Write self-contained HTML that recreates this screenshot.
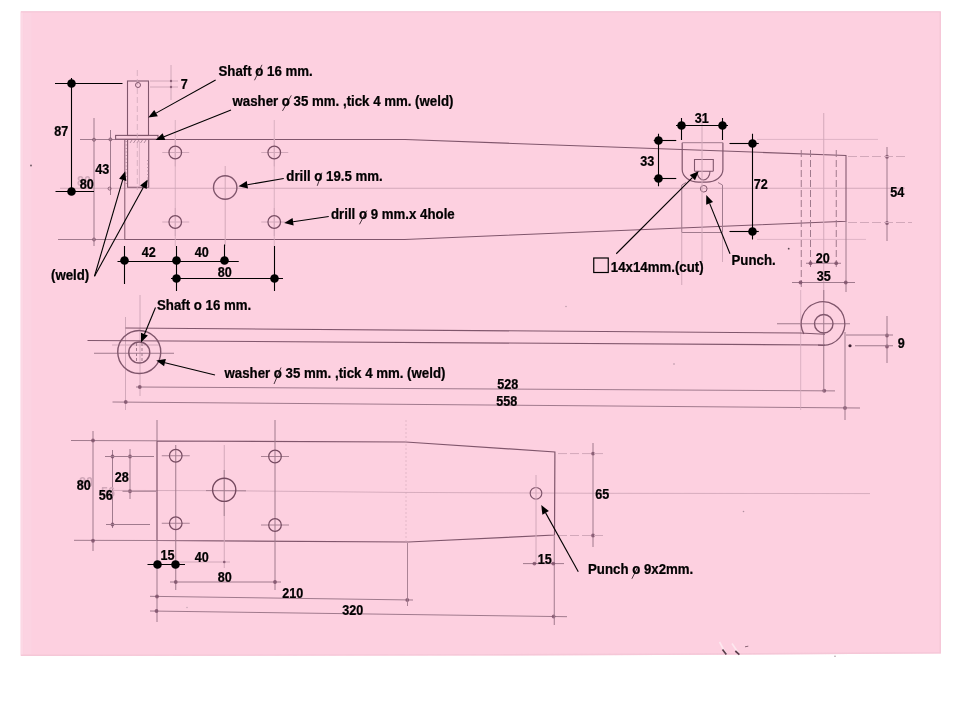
<!DOCTYPE html>
<html><head><meta charset="utf-8"><title>drawing</title>
<style>
html,body{margin:0;padding:0;background:#fff;}
body{width:960px;height:720px;overflow:hidden;}
svg{display:block}
</style></head><body>
<svg width="960" height="720" viewBox="0 0 960 720">
<polygon points="20.6,11.3 941,11.3 941,653.4 660,655 480,655.6 20.6,656" fill="#fdd0e0"/>
<line x1="22" y1="12.5" x2="22" y2="655" stroke="#fbdae6" stroke-width="2.6" stroke-opacity="0.8"/>
<line x1="27.5" y1="13" x2="27.5" y2="654" stroke="#fcd6e3" stroke-width="8" stroke-opacity="0.5"/>
<line x1="21" y1="11.9" x2="940.5" y2="11.9" stroke="#f3c6d6" stroke-width="1.2" stroke-opacity="0.8"/>
<polyline points="940.2,12 940.2,652.7 660,654.3 480,654.9 21,655.3" fill="none" stroke="#f2c4d4" stroke-width="1.4" stroke-opacity="0.8"/>
<defs><filter id="soft" x="-2%" y="-2%" width="104%" height="104%"><feGaussianBlur stdDeviation="0.35"/></filter></defs>
<g filter="url(#soft)">
<line x1="60" y1="188.25" x2="905" y2="188.25" stroke="#d2a8ba" stroke-width="1" />
<line x1="80" y1="139.5" x2="125" y2="139.5" stroke="#a07a8d" stroke-width="1" />
<line x1="58" y1="239.5" x2="125" y2="239.5" stroke="#a07a8d" stroke-width="1" />
<line x1="757" y1="139.4" x2="878" y2="139.4" stroke="#d2a8ba" stroke-width="0.7" />
<line x1="757" y1="239.4" x2="866" y2="239.4" stroke="#d2a8ba" stroke-width="0.7" />
<polyline points="124.8,139.5 405,139.5 846,155.5 846,221.3 404.5,239.5 124.8,239.5" fill="none" stroke="#80566c" stroke-width="1.05"/>
<line x1="94" y1="118" x2="94" y2="246" stroke="#a07a8d" stroke-width="1" />
<circle cx="94" cy="139.7" r="1.5" fill="none" stroke="#80566c" stroke-width="0.9"/>
<circle cx="94" cy="239.5" r="1.5" fill="none" stroke="#80566c" stroke-width="0.9"/>
<line x1="110.5" y1="130" x2="110.5" y2="195" stroke="#a07a8d" stroke-width="1" />
<circle cx="110.4" cy="139.4" r="1.5" fill="none" stroke="#80566c" stroke-width="0.9"/>
<circle cx="109.6" cy="188.6" r="1.5" fill="none" stroke="#80566c" stroke-width="0.9"/>
<line x1="175.25" y1="120" x2="175.25" y2="246" stroke="#d2a8ba" stroke-width="0.8" />
<line x1="274.25" y1="120" x2="274.25" y2="246" stroke="#d2a8ba" stroke-width="0.8" />
<line x1="162.25" y1="152.5" x2="189.25" y2="152.5" stroke="#d2a8ba" stroke-width="1" />
<line x1="175.25" y1="138.5" x2="175.25" y2="166.5" stroke="#d2a8ba" stroke-width="1" />
<circle cx="175.25" cy="152.5" r="6.3" fill="none" stroke="#784d63" stroke-width="1.25"/>
<line x1="261.25" y1="152.5" x2="288.25" y2="152.5" stroke="#d2a8ba" stroke-width="1" />
<line x1="274.25" y1="138.5" x2="274.25" y2="166.5" stroke="#d2a8ba" stroke-width="1" />
<circle cx="274.25" cy="152.5" r="6.3" fill="none" stroke="#784d63" stroke-width="1.25"/>
<line x1="162.25" y1="222" x2="189.25" y2="222" stroke="#d2a8ba" stroke-width="1" />
<line x1="175.25" y1="208" x2="175.25" y2="236" stroke="#d2a8ba" stroke-width="1" />
<circle cx="175.25" cy="222" r="6.3" fill="none" stroke="#784d63" stroke-width="1.25"/>
<line x1="261.25" y1="222" x2="288.25" y2="222" stroke="#d2a8ba" stroke-width="1" />
<line x1="274.25" y1="208" x2="274.25" y2="236" stroke="#d2a8ba" stroke-width="1" />
<circle cx="274.25" cy="222" r="6.3" fill="none" stroke="#784d63" stroke-width="1.25"/>
<line x1="225.2" y1="166" x2="225.2" y2="246" stroke="#d2a8ba" stroke-width="1" />
<circle cx="225.2" cy="187.5" r="11.7" fill="none" stroke="#80566c" stroke-width="1.4"/>
<rect x="127.5" y="81" width="21" height="54.5" fill="none" stroke="#80566c" stroke-width="1.1"/>
<rect x="115.6" y="135.4" width="42.4" height="3.8" fill="none" stroke="#80566c" stroke-width="1.1"/>
<path d="M127.6,139.2 V187.3 H148.7 V139.2" fill="none" stroke="#80566c" stroke-width="1.1"/>
<line x1="124.8" y1="139.5" x2="124.8" y2="239.5" stroke="#80566c" stroke-width="1" />
<line x1="126.2" y1="141" x2="126.2" y2="186" stroke="#a07a8d" stroke-width="1.2" stroke-dasharray="1 2.5" stroke-opacity="0.7"/>
<line x1="148" y1="160" x2="148" y2="186" stroke="#a07a8d" stroke-width="1.2" stroke-dasharray="1 2.5"/>
<path d="M130,143 l2,-3 M133.5,143 l2,-3 M137,143 l2,-3 M140.5,143 l2,-3 M144,143 l2,-3" stroke="#a07a8d" stroke-width="0.8" fill="none"/>
<line x1="137.3" y1="70" x2="137.3" y2="190" stroke="#d2a8ba" stroke-width="0.8" stroke-dasharray="6 3"/>
<line x1="139.4" y1="141" x2="139.4" y2="187" stroke="#d2a8ba" stroke-width="0.7" />
<circle cx="138" cy="85" r="2.5" fill="none" stroke="#80566c" stroke-width="1"/>
<line x1="150" y1="81" x2="178" y2="81" stroke="#d2a8ba" stroke-width="1" />
<line x1="150" y1="87" x2="178" y2="87" stroke="#d2a8ba" stroke-width="1" />
<line x1="171" y1="65" x2="171" y2="100" stroke="#d2a8ba" stroke-width="1" />
<circle cx="171" cy="81" r="1.2" fill="#7a4e66" fill-opacity="0.8"/>
<circle cx="171" cy="87" r="1.2" fill="#7a4e66" fill-opacity="0.8"/>
<path d="M682.2,142.7 V169.5 A16.5,12.6 0 0 0 698.7,182.1 H706.4 A16.5,12.6 0 0 0 722.9,169.5 V142.7" fill="none" stroke="#80566c" stroke-width="1.2"/>
<line x1="682.2" y1="142.7" x2="722.9" y2="142.7" stroke="#a07a8d" stroke-width="1" />
<path d="M681.75,232.5 V185 L686,182.5 M722.5,232.5 V185 L718,182.5 M681.75,232.5 H722.5" fill="none" stroke="#a07a8d" stroke-width="1"/>
<path d="M694.5,171.3 V159.5 H713.3 V171.3 M697,171.3 A6,8 0 0 0 710,171.3 M694.5,171.3 H713.3" fill="none" stroke="#80566c" stroke-width="1.1"/>
<circle cx="703.75" cy="188.75" r="3.3" fill="none" stroke="#80566c" stroke-width="1"/>
<line x1="702" y1="118" x2="702" y2="262" stroke="#d2a8ba" stroke-width="1" />
<line x1="681.75" y1="232.5" x2="681.75" y2="285" stroke="#d2a8ba" stroke-width="1" />
<line x1="722.5" y1="232.5" x2="722.5" y2="262" stroke="#d2a8ba" stroke-width="1" />
<line x1="801.25" y1="150" x2="801.25" y2="290" stroke="#a07a8d" stroke-width="1" stroke-dasharray="7 3"/>
<line x1="810.5" y1="150" x2="810.5" y2="268" stroke="#a07a8d" stroke-width="1" stroke-dasharray="7 3"/>
<line x1="836.25" y1="150" x2="836.25" y2="268" stroke="#a07a8d" stroke-width="1" stroke-dasharray="7 3"/>
<line x1="846" y1="221" x2="846" y2="292" stroke="#a07a8d" stroke-width="1" />
<line x1="823.75" y1="113" x2="823.75" y2="300" stroke="#d2a8ba" stroke-width="1" />
<line x1="887" y1="147" x2="887" y2="241" stroke="#a07a8d" stroke-width="1" />
<circle cx="887" cy="156.75" r="1.9" fill="#7a4e66" fill-opacity="0.8"/>
<circle cx="887" cy="223" r="1.9" fill="#7a4e66" fill-opacity="0.8"/>
<line x1="848" y1="156.5" x2="905" y2="156.5" stroke="#d2a8ba" stroke-width="1" stroke-dasharray="9 3"/>
<line x1="848" y1="222.5" x2="912" y2="222.5" stroke="#d2a8ba" stroke-width="1" stroke-dasharray="9 3"/>
<line x1="806" y1="263.25" x2="841" y2="263.25" stroke="#a07a8d" stroke-width="1" />
<circle cx="810.5" cy="263.25" r="1.9" fill="#7a4e66" fill-opacity="0.8"/>
<circle cx="836.25" cy="263.25" r="1.9" fill="#7a4e66" fill-opacity="0.8"/>
<line x1="792" y1="282.5" x2="855" y2="282.5" stroke="#a07a8d" stroke-width="1" />
<circle cx="800.5" cy="282.5" r="1.9" fill="#7a4e66" fill-opacity="0.8"/>
<circle cx="845.75" cy="282.5" r="1.9" fill="#7a4e66" fill-opacity="0.8"/>
<line x1="125.5" y1="317" x2="125.5" y2="410" stroke="#d2a8ba" stroke-width="1" />
<line x1="140" y1="295" x2="140" y2="396" stroke="#d2a8ba" stroke-width="1" />
<line x1="125.5" y1="328.0" x2="800" y2="333.0" stroke="#80566c" stroke-width="1.1" />
<line x1="87.5" y1="340.5" x2="825" y2="345" stroke="#80566c" stroke-width="1.1" />
<line x1="94" y1="353.25" x2="174" y2="353.25" stroke="#a07a8d" stroke-width="1" />
<line x1="112" y1="345" x2="160" y2="345" stroke="#d2a8ba" stroke-width="1" />
<circle cx="139.25" cy="352" r="21.5" fill="none" stroke="#80566c" stroke-width="1.4"/>
<circle cx="139.25" cy="352.5" r="10.5" fill="none" stroke="#80566c" stroke-width="1.4"/>
<line x1="136.5" y1="343" x2="136.5" y2="362" stroke="#a07a8d" stroke-width="1" stroke-dasharray="3 2"/>
<line x1="142" y1="343" x2="142" y2="362" stroke="#a07a8d" stroke-width="1" stroke-dasharray="3 2"/>
<line x1="136" y1="387" x2="835" y2="390.9" stroke="#a07a8d" stroke-width="1" />
<circle cx="139.75" cy="387" r="1.9" fill="#7a4e66" fill-opacity="0.8"/>
<circle cx="824.25" cy="390.75" r="1.9" fill="#7a4e66" fill-opacity="0.8"/>
<line x1="112.5" y1="402" x2="860" y2="408" stroke="#a07a8d" stroke-width="1" />
<circle cx="125.75" cy="402" r="1.9" fill="#7a4e66" fill-opacity="0.8"/>
<circle cx="845" cy="408" r="1.9" fill="#7a4e66" fill-opacity="0.8"/>
<line x1="777" y1="323.75" x2="850" y2="323.75" stroke="#a07a8d" stroke-width="1" />
<line x1="823.75" y1="290" x2="823.75" y2="392" stroke="#a07a8d" stroke-width="1" />
<line x1="800.7" y1="290" x2="800.7" y2="410" stroke="#d2a8ba" stroke-width="0.8" />
<line x1="845" y1="332" x2="845" y2="420" stroke="#a07a8d" stroke-width="1" />
<circle cx="823.75" cy="323.75" r="9.25" fill="none" stroke="#80566c" stroke-width="1.4"/>
<path d="M818,345.1 L823,345.4 A21.8,21.8 0 1 0 803.86,334.03" fill="none" stroke="#80566c" stroke-width="1.3"/>
<line x1="800" y1="333.0" x2="825" y2="334.2" stroke="#80566c" stroke-width="1.1" />
<line x1="887" y1="316" x2="887" y2="363" stroke="#a07a8d" stroke-width="1" />
<circle cx="887" cy="335.5" r="1.9" fill="#7a4e66" fill-opacity="0.8"/>
<circle cx="887" cy="346.5" r="1.9" fill="#7a4e66" fill-opacity="0.8"/>
<line x1="846" y1="335" x2="893" y2="335" stroke="#a07a8d" stroke-width="1" />
<line x1="855" y1="345.75" x2="893" y2="345.75" stroke="#a07a8d" stroke-width="1" />
<circle cx="850" cy="345.75" r="1.6" fill="#3a2030"/>
<polyline points="105,490.4 224,490.7 400,492.4 600,493.3 870,493.6" fill="none" stroke="#d2a8ba" stroke-width="0.9"/>
<polygon points="157,441 405.75,442 554.9,452 554.5,535 408.25,542 157,540.5" fill="none" stroke="#80566c" stroke-width="1.2"/>
<line x1="157" y1="420" x2="157" y2="441" stroke="#a07a8d" stroke-width="1" />
<line x1="157" y1="540.5" x2="157" y2="622" stroke="#a07a8d" stroke-width="1" />
<line x1="71" y1="440.5" x2="157" y2="440.8" stroke="#a07a8d" stroke-width="1" />
<line x1="74" y1="540.3" x2="157" y2="540.5" stroke="#a07a8d" stroke-width="1" />
<line x1="406" y1="420" x2="406" y2="542" stroke="#d2a8ba" stroke-width="0.6" stroke-dasharray="2 2"/>
<line x1="93" y1="431" x2="93" y2="551" stroke="#a07a8d" stroke-width="1" />
<circle cx="93" cy="440.5" r="1.9" fill="#7a4e66" fill-opacity="0.8"/>
<circle cx="93" cy="540.75" r="1.9" fill="#7a4e66" fill-opacity="0.8"/>
<line x1="112.5" y1="450" x2="112.5" y2="528" stroke="#a07a8d" stroke-width="1" />
<circle cx="112.5" cy="456.5" r="1.9" fill="#7a4e66" fill-opacity="0.8"/>
<circle cx="112.5" cy="524.5" r="1.9" fill="#7a4e66" fill-opacity="0.8"/>
<line x1="130" y1="449" x2="130" y2="499" stroke="#a07a8d" stroke-width="1" />
<circle cx="130" cy="456.5" r="1.9" fill="#7a4e66" fill-opacity="0.8"/>
<circle cx="130" cy="491.25" r="1.9" fill="#7a4e66" fill-opacity="0.8"/>
<line x1="105" y1="456.5" x2="154" y2="456.5" stroke="#a07a8d" stroke-width="1" />
<line x1="122.5" y1="491.25" x2="156" y2="491.25" stroke="#a07a8d" stroke-width="1" />
<line x1="106" y1="524.5" x2="150" y2="524.5" stroke="#a07a8d" stroke-width="1" />
<line x1="175.75" y1="445" x2="175.75" y2="590" stroke="#a07a8d" stroke-width="1" />
<line x1="224.25" y1="445" x2="224.25" y2="568" stroke="#d2a8ba" stroke-width="1" />
<line x1="275" y1="420" x2="275" y2="590" stroke="#a07a8d" stroke-width="1" />
<line x1="161.75" y1="455.75" x2="189.75" y2="455.75" stroke="#a07a8d" stroke-width="0.9" />
<circle cx="175.75" cy="455.75" r="6.3" fill="none" stroke="#784d63" stroke-width="1.25"/>
<line x1="261" y1="456.5" x2="289" y2="456.5" stroke="#a07a8d" stroke-width="0.9" />
<circle cx="275" cy="456.5" r="6.3" fill="none" stroke="#784d63" stroke-width="1.25"/>
<line x1="161.75" y1="523.25" x2="189.75" y2="523.25" stroke="#a07a8d" stroke-width="0.9" />
<circle cx="175.75" cy="523.25" r="6.3" fill="none" stroke="#784d63" stroke-width="1.25"/>
<line x1="261" y1="525" x2="289" y2="525" stroke="#a07a8d" stroke-width="0.9" />
<circle cx="275" cy="525" r="6.3" fill="none" stroke="#784d63" stroke-width="1.25"/>
<line x1="206" y1="490.6" x2="246" y2="490.8" stroke="#a07a8d" stroke-width="0.9" />
<line x1="224.2" y1="470" x2="224.2" y2="516" stroke="#a07a8d" stroke-width="0.9" />
<circle cx="224.2" cy="489.8" r="11.6" fill="none" stroke="#74495f" stroke-width="1.4"/>
<line x1="175.75" y1="562" x2="230" y2="562" stroke="#d2a8ba" stroke-width="1" />
<circle cx="224.25" cy="562" r="1.3" fill="#7a4e66" fill-opacity="0.8"/>
<line x1="170" y1="582" x2="281" y2="582" stroke="#a07a8d" stroke-width="1" />
<circle cx="175.75" cy="582" r="1.9" fill="#7a4e66" fill-opacity="0.8"/>
<circle cx="275" cy="582" r="1.9" fill="#7a4e66" fill-opacity="0.8"/>
<line x1="150" y1="596.3" x2="413" y2="600" stroke="#a07a8d" stroke-width="1" />
<circle cx="157" cy="596.5" r="1.9" fill="#7a4e66" fill-opacity="0.8"/>
<circle cx="407.3" cy="600" r="1.9" fill="#7a4e66" fill-opacity="0.8"/>
<line x1="150" y1="611" x2="567" y2="616.7" stroke="#a07a8d" stroke-width="1" />
<circle cx="156.5" cy="611" r="1.9" fill="#7a4e66" fill-opacity="0.8"/>
<circle cx="553.6" cy="616.5" r="1.9" fill="#7a4e66" fill-opacity="0.8"/>
<line x1="407.5" y1="543" x2="407.5" y2="606" stroke="#a07a8d" stroke-width="0.9" />
<circle cx="536" cy="493.3" r="5.8" fill="none" stroke="#80566c" stroke-width="1.2"/>
<line x1="536" y1="475" x2="536" y2="564" stroke="#d2a8ba" stroke-width="1" />
<line x1="554.25" y1="536" x2="554.25" y2="625" stroke="#a07a8d" stroke-width="1" />
<line x1="593" y1="443" x2="593" y2="547" stroke="#a07a8d" stroke-width="1" />
<circle cx="593" cy="453.6" r="1.9" fill="#7a4e66" fill-opacity="0.8"/>
<circle cx="593" cy="535.5" r="1.9" fill="#7a4e66" fill-opacity="0.8"/>
<line x1="558" y1="453.6" x2="606" y2="453.6" stroke="#d2a8ba" stroke-width="1" stroke-dasharray="9 3"/>
<line x1="558" y1="535.5" x2="603" y2="535.5" stroke="#d2a8ba" stroke-width="1" stroke-dasharray="9 3"/>
<line x1="523" y1="563.6" x2="564" y2="563.6" stroke="#a07a8d" stroke-width="1" />
<circle cx="534.4" cy="563.6" r="1.9" fill="#7a4e66" fill-opacity="0.8"/>
<circle cx="553.3" cy="563.6" r="1.9" fill="#7a4e66" fill-opacity="0.8"/>
<path d="M719.5,642 L726,654 M732,643.5 L739,654" stroke="#fde8ef" stroke-width="1.6" fill="none"/>
<path d="M722.5,649.5 L726.3,654.6 M735.3,651 L739.4,654.6" stroke="#5c3f4e" stroke-width="1.7" fill="none"/>
<path d="M745,646.8 L748.3,646.2" stroke="#8a6676" stroke-width="1" fill="none"/>
<circle cx="835" cy="656.3" r="0.7" fill="#9a8890"/>
<circle cx="31" cy="165.5" r="0.9" fill="#6a5560"/>
<circle cx="788.7" cy="248.7" r="0.9" fill="#5a4550"/>
<circle cx="674" cy="364" r="0.8" fill="#b090a0"/>
<circle cx="743.5" cy="511.5" r="0.8" fill="#b090a0"/>
<circle cx="566" cy="306.5" r="0.7" fill="#b090a0"/>
<circle cx="187" cy="607.5" r="0.7" fill="#c0a0b0"/>
</g>
<line x1="55" y1="83.5" x2="122.5" y2="83.5" stroke="#000" stroke-width="1.1"/>
<line x1="55.5" y1="191.5" x2="94" y2="191.5" stroke="#000" stroke-width="1.1"/>
<line x1="71.5" y1="78" x2="71.5" y2="191" stroke="#000" stroke-width="1.1"/>
<circle cx="71.5" cy="83.5" r="4.3" fill="#000"/>
<circle cx="71.5" cy="191.5" r="4.3" fill="#000"/>
<line x1="117.5" y1="261.5" x2="238.75" y2="261.5" stroke="#000" stroke-width="1.1"/>
<line x1="124.5" y1="246" x2="124.5" y2="284" stroke="#000" stroke-width="1.1"/>
<line x1="176.5" y1="246" x2="176.5" y2="291" stroke="#000" stroke-width="1.1"/>
<line x1="224.5" y1="244.5" x2="224.5" y2="262.5" stroke="#000" stroke-width="1.1"/>
<line x1="274.5" y1="246" x2="274.5" y2="291" stroke="#000" stroke-width="1.1"/>
<line x1="171" y1="278.5" x2="283" y2="278.5" stroke="#000" stroke-width="1.1"/>
<circle cx="124.5" cy="260.5" r="4.3" fill="#000"/>
<circle cx="176.5" cy="260.5" r="4.3" fill="#000"/>
<circle cx="224.5" cy="260.5" r="4.3" fill="#000"/>
<circle cx="176.5" cy="278.5" r="4.3" fill="#000"/>
<circle cx="274.5" cy="278.5" r="4.3" fill="#000"/>
<line x1="681.5" y1="118" x2="681.5" y2="140" stroke="#000" stroke-width="1.1"/>
<line x1="722.5" y1="118" x2="722.5" y2="140" stroke="#000" stroke-width="1.1"/>
<line x1="676" y1="125.5" x2="728" y2="125.5" stroke="#000" stroke-width="1.1"/>
<circle cx="681.5" cy="125.5" r="4.3" fill="#000"/>
<circle cx="722.5" cy="125.5" r="4.3" fill="#000"/>
<line x1="658.5" y1="133.75" x2="658.5" y2="186.25" stroke="#000" stroke-width="1.1"/>
<line x1="653.75" y1="140.5" x2="676.25" y2="140.5" stroke="#000" stroke-width="1.1"/>
<line x1="653.75" y1="178.5" x2="676.25" y2="178.5" stroke="#000" stroke-width="1.1"/>
<circle cx="658.5" cy="140.5" r="4.3" fill="#000"/>
<circle cx="658.5" cy="178.5" r="4.3" fill="#000"/>
<line x1="752.5" y1="133.75" x2="752.5" y2="239.5" stroke="#000" stroke-width="1.1"/>
<line x1="729.5" y1="143.5" x2="758.75" y2="143.5" stroke="#000" stroke-width="1.1"/>
<line x1="729.5" y1="231.5" x2="758.75" y2="231.5" stroke="#000" stroke-width="1.1"/>
<circle cx="752.5" cy="143.5" r="4.3" fill="#000"/>
<circle cx="752.5" cy="231.5" r="4.3" fill="#000"/>
<line x1="147.5" y1="564.5" x2="185" y2="564.5" stroke="#000" stroke-width="1.1"/>
<circle cx="157.5" cy="564.5" r="4.3" fill="#000"/>
<circle cx="175.5" cy="564.5" r="4.3" fill="#000"/>
<line x1="215.60" y1="80.00" x2="156.06" y2="113.12" stroke="#000" stroke-width="1.1"/>
<polygon points="148.20,117.50 154.27,109.89 157.86,116.36" fill="#000"/>
<line x1="231.00" y1="110.00" x2="163.96" y2="136.67" stroke="#000" stroke-width="1.1"/>
<polygon points="155.60,140.00 162.59,133.23 165.33,140.11" fill="#000"/>
<line x1="283.75" y1="178.50" x2="247.37" y2="184.73" stroke="#000" stroke-width="1.1"/>
<polygon points="238.50,186.25 246.75,181.08 248.00,188.38" fill="#000"/>
<line x1="328.75" y1="216.50" x2="293.10" y2="221.78" stroke="#000" stroke-width="1.1"/>
<polygon points="284.20,223.10 292.56,218.12 293.65,225.44" fill="#000"/>
<line x1="94.50" y1="276.25" x2="122.67" y2="179.89" stroke="#000" stroke-width="1.1"/>
<polygon points="125.20,171.25 126.23,180.93 119.12,178.85" fill="#000"/>
<line x1="94.50" y1="276.25" x2="143.37" y2="187.29" stroke="#000" stroke-width="1.1"/>
<polygon points="147.70,179.40 146.61,189.07 140.12,185.51" fill="#000"/>
<line x1="616.25" y1="253.75" x2="692.39" y2="177.61" stroke="#000" stroke-width="1.1"/>
<polygon points="698.75,171.25 695.00,180.23 689.77,175.00" fill="#000"/>
<line x1="730.00" y1="253.75" x2="709.62" y2="203.34" stroke="#000" stroke-width="1.1"/>
<polygon points="706.25,195.00 713.05,201.96 706.19,204.73" fill="#000"/>
<line x1="155.50" y1="307.50" x2="144.44" y2="334.19" stroke="#000" stroke-width="1.1"/>
<polygon points="141.00,342.50 141.03,332.77 147.86,335.60" fill="#000"/>
<line x1="215.00" y1="375.00" x2="164.99" y2="362.66" stroke="#000" stroke-width="1.1"/>
<polygon points="156.25,360.50 165.87,359.06 164.10,366.25" fill="#000"/>
<line x1="578.30" y1="571.70" x2="545.62" y2="512.87" stroke="#000" stroke-width="1.1"/>
<polygon points="541.25,505.00 548.85,511.07 542.39,514.66" fill="#000"/>
<rect x="593.75" y="258" width="14.5" height="14.5" fill="none" stroke="#000" stroke-width="1.2"/>
<line x1="254.5" y1="80.25" x2="262" y2="64.8" stroke="#33222b" stroke-width="0.9"/>
<line x1="282.5" y1="110.9" x2="291.3" y2="95.4" stroke="#33222b" stroke-width="0.9"/>
<line x1="317.25" y1="185.8" x2="321.9" y2="172.7" stroke="#33222b" stroke-width="0.9"/>
<line x1="359.5" y1="224.3" x2="366.8" y2="210.6" stroke="#33222b" stroke-width="0.9"/>
<line x1="274" y1="384" x2="281" y2="367.5" stroke="#33222b" stroke-width="0.9"/>
<line x1="631.9" y1="578.75" x2="637.5" y2="567.5" stroke="#33222b" stroke-width="0.9"/>
<g opacity="0.999" stroke="#000" stroke-width="0.25" font-family="'Liberation Sans', Arial, sans-serif" font-weight="bold" font-size="14px">
<text transform="translate(77,185.5) scale(0.9,1)" fill="#d2a8ba" stroke="none">80</text>
<text transform="translate(79,486.5) scale(0.9,1)" fill="#d2a8ba" stroke="none">80</text>
<text transform="translate(101,497) scale(0.9,1)" fill="#d2a8ba" stroke="none">56</text>
<text transform="translate(218.5,75.75) scale(0.947,1)" fill="#000" >Shaft o 16 mm.</text>
<text transform="translate(232.5,105.5) scale(0.947,1)" fill="#000" >washer o 35 mm. ,tick 4 mm. (weld)</text>
<text transform="translate(286.3,180.5) scale(0.947,1)" fill="#000" >drill o 19.5 mm.</text>
<text transform="translate(331,218.6) scale(0.947,1)" fill="#000" >drill o 9 mm.x 4hole</text>
<text transform="translate(51,280.2) scale(0.947,1)" fill="#000" >(weld)</text>
<text transform="translate(610.8,272.3) scale(0.947,1)" fill="#000" >14x14mm.(cut)</text>
<text transform="translate(731.5,265) scale(0.947,1)" fill="#000" >Punch.</text>
<text transform="translate(157,309.8) scale(0.947,1)" fill="#000" >Shaft o 16 mm.</text>
<text transform="translate(224.5,378) scale(0.947,1)" fill="#000" >washer o 35 mm. ,tick 4 mm. (weld)</text>
<text transform="translate(588,573.8) scale(0.947,1)" fill="#000" >Punch o 9x2mm.</text>
<text transform="translate(54.2,136) scale(0.9,1)" fill="#000" >87</text>
<text transform="translate(180.7,89) scale(0.9,1)" fill="#000" >7</text>
<text transform="translate(95.2,174) scale(0.9,1)" fill="#000" >43</text>
<text transform="translate(79.7,189) scale(0.9,1)" fill="#000" >80</text>
<text transform="translate(141.7,257) scale(0.9,1)" fill="#000" >42</text>
<text transform="translate(194.7,257) scale(0.9,1)" fill="#000" >40</text>
<text transform="translate(217.7,277) scale(0.9,1)" fill="#000" >80</text>
<text transform="translate(694.7,123) scale(0.9,1)" fill="#000" >31</text>
<text transform="translate(640.2,166) scale(0.9,1)" fill="#000" >33</text>
<text transform="translate(753.7,189) scale(0.9,1)" fill="#000" >72</text>
<text transform="translate(890.2,196.5) scale(0.9,1)" fill="#000" >54</text>
<text transform="translate(815.7,263) scale(0.9,1)" fill="#000" >20</text>
<text transform="translate(816.7,281) scale(0.9,1)" fill="#000" >35</text>
<text transform="translate(897.7,347.5) scale(0.9,1)" fill="#000" >9</text>
<text transform="translate(497.2,389) scale(0.9,1)" fill="#000" >528</text>
<text transform="translate(496.2,406) scale(0.9,1)" fill="#000" >558</text>
<text transform="translate(76.7,489.5) scale(0.9,1)" fill="#000" >80</text>
<text transform="translate(98.7,500) scale(0.9,1)" fill="#000" >56</text>
<text transform="translate(114.7,482) scale(0.9,1)" fill="#000" >28</text>
<text transform="translate(160.5,559.8) scale(0.9,1)" fill="#000" >15</text>
<text transform="translate(194.7,562) scale(0.9,1)" fill="#000" >40</text>
<text transform="translate(217.7,582) scale(0.9,1)" fill="#000" >80</text>
<text transform="translate(282.2,597.5) scale(0.9,1)" fill="#000" >210</text>
<text transform="translate(342.2,615) scale(0.9,1)" fill="#000" >320</text>
<text transform="translate(595.2,499) scale(0.9,1)" fill="#000" >65</text>
<text transform="translate(537.7,563.5) scale(0.9,1)" fill="#000" >15</text>
</g>
</svg>
</body></html>
